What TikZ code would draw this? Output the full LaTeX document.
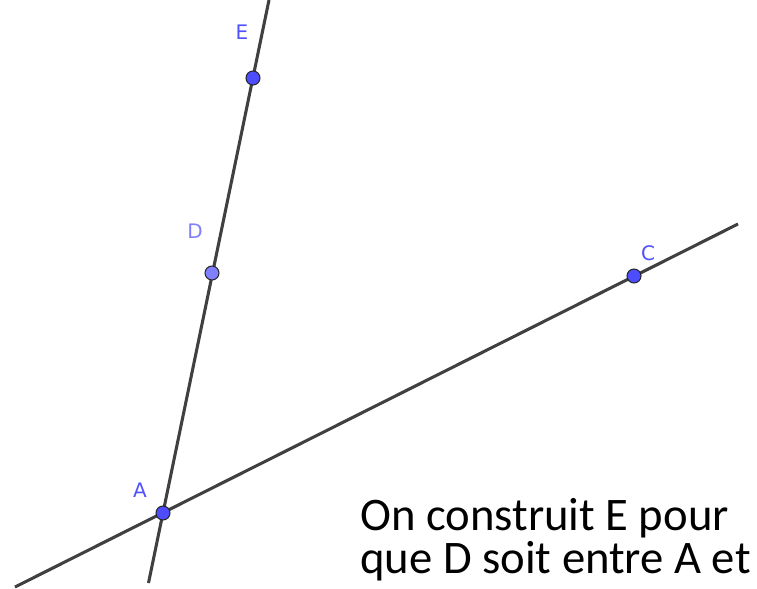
\documentclass[tikz,border=0pt]{standalone}
\usepackage{fontspec}
\setmainfont{Carlito}
\newfontfamily\labfont{DejaVu Sans}
\definecolor{linegray}{HTML}{404040}
\definecolor{ptblue}{HTML}{4D4DFF}
\definecolor{ptlight}{HTML}{7F7FFF}
\definecolor{labblue}{HTML}{5050FF}
\definecolor{lablight}{HTML}{8080FF}
\tikzset{
  geoline/.style={draw=linegray, line width=2.3pt},
  ptdot/.style={circle, fill=ptblue, draw=black!85, line width=0.8pt, minimum size=10.5pt, inner sep=0pt},
  ptdotlight/.style={ptdot, fill=ptlight},
  ptlab/.style={text=labblue, font=\labfont\fontsize{15}{17}\selectfont, inner sep=0pt},
  ptlablight/.style={ptlab, text=lablight},
  bigtext/.style={font=\fontsize{35}{40}\selectfont, anchor=base west, inner sep=0pt}
}
\begin{document}
\begin{tikzpicture}[x=0.75pt, y=-0.75pt]
\useasboundingbox (0,0) rectangle (757,589);
\clip (0,0) rectangle (757,589);
\coordinate (AEtop) at (269,0);
\coordinate (AEbot) at (148.5,583);
\coordinate (ACl) at (15,587);
\coordinate (ACr) at (738,224);
\draw[geoline] (AEbot) -- (AEtop);
\draw[geoline] (ACl) -- (ACr);
\node[ptdot] (A) at (163,513) {};
\node[ptdotlight] (D) at (212,273) {};
\node[ptdot] (E) at (253,78) {};
\node[ptdot] (C) at (634,276) {};
\node[ptlab] (lA) at (140,490) {A};
\node[ptlablight] (lD) at (195,231) {D};
\node[ptlab] (lE) at (242,32) {E};
\node[ptlab] (lC) at (648,253) {C};
\node[bigtext] (t1) at (360,530) {On construit E pour};
\node[bigtext] (t2) at (360,573) {que D soit entre A et};
\end{tikzpicture}
\end{document}
